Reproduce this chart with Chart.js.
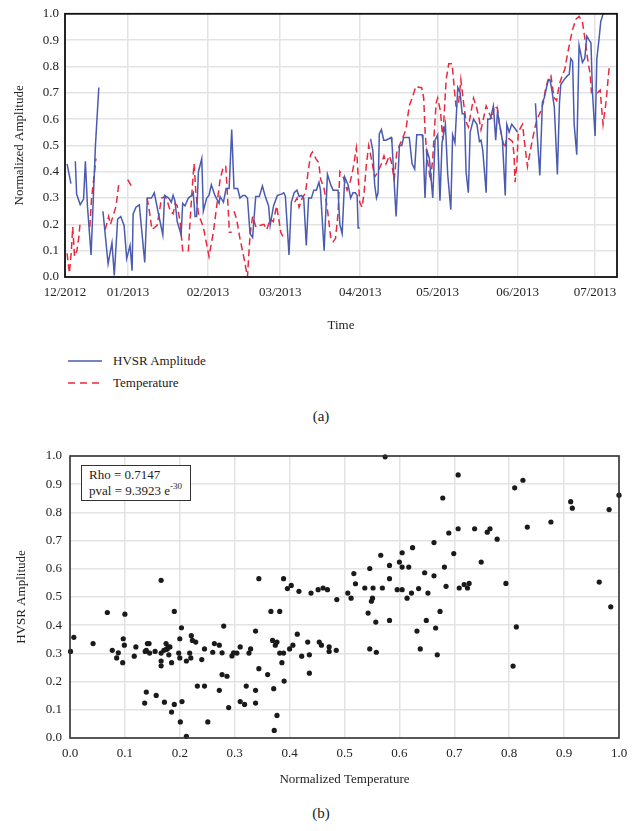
<!DOCTYPE html>
<html>
<head>
<meta charset="utf-8">
<script src="https://cdn.jsdelivr.net/npm/chart.js@4.4.1/dist/chart.umd.min.js"></script>
<style>
  html, body { margin:0; padding:0; background:#fff; }
  body { width:642px; height:831px; position:relative; overflow:hidden; font-family:"Liberation Serif","DejaVu Serif",serif; color:#222; }
  canvas { position:absolute; left:0; }
  #c1 { top:0; }
  #c2 { top:440px; }
  .txt { position:absolute; font-size:13px; line-height:16px; white-space:nowrap; }
  .cap { position:absolute; font-size:15px; width:642px; text-align:center; left:0; }
  #stat { position:absolute; left:81px; top:465px; width:101px; height:33px; border:1.5px solid #333; background:#fff;
          font-size:13px; line-height:15.5px; padding:1px 0 0 7px; box-sizing:content-box; z-index:5; }
  #stat sup { font-size:9px; vertical-align:6px; line-height:0; }
</style>
</head>
<body>
<canvas id="c1" width="642" height="340"></canvas>
<canvas id="c2" width="642" height="360"></canvas>

<svg style="position:absolute;left:66px;top:353px" width="40" height="36">
  <line x1="2" y1="8" x2="36" y2="8" stroke="#4a5bb0" stroke-width="1.5"/>
  <line x1="2" y1="30" x2="36" y2="30" stroke="#e8283f" stroke-width="1.5" stroke-dasharray="7,5"/>
</svg>
<div class="txt" style="left:113px;top:353px">HVSR Amplitude</div>
<div class="txt" style="left:113px;top:375px">Temperature</div>
<div class="cap" style="top:408px">(a)</div>
<div class="cap" style="top:805px">(b)</div>
<div id="stat">Rho = 0.7147<br>pval = 9.3923 e<sup>-30</sup></div>

<script>
// ---------- Data (a): time series, x = days since 1 Dec 2012 ----------
const monthTickDays = [6.6, 31, 62, 90, 121, 151, 182, 212];
const monthTickLabels = ['12/2012','01/2013','02/2013','03/2013','04/2013','05/2013','06/2013','07/2013'];

const hvsrSeries = [
 [7.4,.43],[8.9,.355],[9.7,null],[10.6,.44],[11.1,.315],[12.5,.275],[13.8,.296],[14.5,.44],[15.3,.27],[16.7,.084],[18.4,.50],[19.7,.72],
 [20.5,null],[21.3,.25],[23.3,.05],[24.8,.13],[25.7,.006],[27.0,.22],[28.2,.23],[29.5,.196],[30.5,.07],[31.8,.12],[32.6,.024],[33.0,.24],
 [34.1,.265],[35.4,.274],[37.5,.055],[38.5,.30],[40.1,.30],[41.2,.32],[42.7,.246],[44.5,.16],[45.2,.31],[46.8,.30],[47.8,.284],[48.5,.31],
 [49.2,.29],[50.1,.21],[51.6,.16],[52.2,.28],[53.1,.27],[54.4,.30],[55.7,.31],[56.3,.32],[57.0,.23],[57.6,.23],[58.3,.40],[59.6,.45],
 [60.2,.25],[61.5,.30],[62.4,.31],[63.3,.35],[64.7,.31],[66.3,.28],[66.7,.306],[68.0,.284],[69.0,.336],[70.2,.336],[71.2,.56],[72.1,.336],
 [73.5,.336],[74.4,.30],[75.5,.31],[76.4,.31],[77.3,.30],[78.3,.165],[79.3,.15],[80.5,.306],[81.9,.306],[83.1,.346],[84.1,.31],[85.5,.27],
 [86.1,.196],[87.4,.27],[88.9,.31],[90.5,.315],[91.4,.32],[92.0,.306],[93.4,.084],[94.3,.284],[95.4,.32],[96.5,.33],[97.3,.306],[98.2,.31],
 [99.1,.30],[100.1,.12],[101.0,.30],[102.1,.30],[103.0,.33],[104.0,.33],[105.0,.36],[105.6,.33],[107.0,.10],[108.3,.39],[109.6,.35],
 [110.5,.33],[111.4,.33],[112.4,.33],[113.1,.20],[114.0,.165],[115.0,.38],[116.3,.35],[117.3,.30],[118.2,.32],[119.1,.32],[119.8,.31],
 [120.2,.186],[120.8,.186],[123.0,null],[125.0,.525],[125.9,.48],[126.6,.35],[127.3,.30],[127.9,.32],[128.4,.544],[129.2,.56],[130.1,.52],
 [131.0,.52],[133.0,.53],[133.3,.51],[134.9,.23],[136.2,.50],[137.1,.50],[137.8,.53],[140.0,.53],[141.1,.43],[142.1,.41],[142.9,.54],
 [143.9,.54],[145.0,.54],[145.3,.52],[146.1,.30],[146.9,.48],[147.8,.45],[149.1,.30],[150.0,.52],[151.0,.54],[151.9,.29],[152.7,.51],
 [154.0,.58],[154.9,.39],[156.1,.256],[156.8,.54],[157.7,.51],[158.8,.72],[159.7,.70],[160.5,.62],[161.4,.62],[162.0,.40],[162.9,.32],
 [163.6,.55],[164.9,.60],[166.2,.58],[167.2,.515],[167.8,.52],[168.5,.48],[169.8,.32],[170.4,.60],[171.4,.60],[172.6,.65],[173.5,.52],
 [174.2,.63],[174.8,.59],[176.1,.52],[177.2,.31],[177.8,.58],[178.7,.55],[179.7,.58],[180.9,.565],[182.0,.55],[185.0,null],[188.9,.66],
 [189.7,.52],[190.6,.386],[191.6,.665],[192.3,.68],[193.2,.72],[193.8,.746],[194.5,.75],[195.1,.72],[196.2,.646],[197.4,.39],[198.2,.66],
 [198.7,.73],[200.0,.75],[201.3,.765],[202.0,.77],[202.6,.83],[203.3,.82],[203.9,.58],[204.9,.465],[205.8,.88],[206.5,.846],[207.1,.815],
 [208.0,.83],[208.8,.915],[209.7,.90],[210.4,.89],[211.0,.70],[212.0,.536],[212.7,.83],[213.6,.91],[214.2,.97],[215.1,1.0],[215.6,1.0]
];

const temperatureSeries = [
 [7.4,.09],[8.3,.015],[9.0,.09],[9.6,.19],[10.3,.078],[11.2,.10],[11.9,.146],[12.5,.21],[14.5,null],[16.2,.19],[16.9,.30],[17.7,.37],
 [18.6,.45],[20.0,null],[22.2,.18],[23.5,.23],[24.2,.20],[25.5,.24],[26.4,.27],[27.4,.35],[29.0,null],[30.9,.37],[32.6,.34],[35.0,null],
 [38.4,.30],[39.3,.25],[40.3,.18],[42.3,.196],[43.2,.25],[44.0,.30],[45.5,.306],[46.5,.28],[47.4,.25],[48.5,.24],[49.3,.28],[50.1,.27],
 [51.2,.21],[52.2,.10],[53.5,.10],[54.4,.10],[55.1,.22],[56.0,.35],[56.6,.43],[57.0,.37],[57.3,.32],[58.3,.24],[60.2,.19],[62.4,.078],
 [64.1,.17],[65.4,.27],[66.7,.37],[68.0,.42],[68.9,.42],[69.5,.32],[70.3,.17],[71.2,.17],[71.6,null],[72.1,.25],[73.1,.22],[74.4,.146],
 [76.0,.07],[77.3,.0],[78.3,.16],[79.3,.23],[80.6,.19],[82.1,.196],[83.7,.20],[84.8,.18],[86.1,.22],[87.3,.21],[88.6,.27],[89.6,.21],
 [90.2,.17],[91.5,.146],[93.5,null],[95.6,.284],[96.5,.30],[97.3,.265],[98.5,.30],[99.8,.32],[100.8,.40],[101.8,.465],[102.5,.475],
 [103.8,.45],[104.9,.434],[105.7,.37],[106.9,.34],[107.9,.284],[108.5,.24],[109.6,.146],[110.5,.134],[111.4,.146],[112.4,.24],[113.1,.40],
 [114.4,.38],[115.9,.33],[117.2,.365],[118.2,.41],[119.5,.49],[119.8,.45],[120.8,.284],[121.7,.265],[122.5,.32],[123.4,.43],[124.3,.50],
 [125.3,.45],[126.6,.38],[127.9,.40],[129.2,.43],[130.2,.46],[131.0,.43],[132.3,.46],[133.0,.44],[134.2,.37],[135.1,.47],[136.2,.50],
 [137.5,.53],[138.7,.56],[140.0,.65],[141.1,.68],[142.6,.725],[143.9,.72],[144.8,.72],[145.6,.68],[146.1,.56],[146.8,.46],[147.4,.42],
 [148.2,.365],[149.1,.45],[149.7,.55],[150.4,.66],[151.0,.68],[152.1,.63],[153.0,.52],[153.6,.63],[154.3,.75],[155.3,.81],[156.6,.81],
 [157.5,.71],[158.1,.65],[159.0,.65],[160.0,.75],[161.0,.665],[162.0,.59],[162.9,.57],[164.0,.63],[164.9,.68],[165.9,.65],[166.9,.61],
 [167.8,.56],[168.7,.60],[169.8,.65],[171.1,.62],[172.1,.60],[173.0,.65],[174.2,.64],[174.8,.59],[176.1,.52],[177.0,.49],[177.8,.53],
 [178.7,.525],[180.0,.515],[180.6,.465],[181.0,.36],[181.7,.43],[182.2,.54],[183.0,.565],[183.9,.58],[184.8,.50],[185.8,.42],[187.1,.49],
 [188.1,.54],[189.0,.58],[190.0,.61],[191.0,.63],[192.0,.665],[192.9,.72],[194.2,.76],[194.9,.765],[195.5,.72],[196.2,.68],[197.1,.67],
 [198.1,.73],[199.1,.76],[200.3,.79],[201.3,.846],[202.4,.90],[203.3,.94],[204.6,.98],[205.8,.99],[207.1,.97],[208.0,.91],[209.1,.83],
 [210.1,.77],[210.6,.70],[211.7,.70],[212.9,.70],[214.0,.71],[214.5,.646],[215.1,.58],[216.2,.66],[217.5,.80]
];

// ---------- Data (b): scatter, normalized temperature vs HVSR amplitude ----------
const scatterTemp = [
 0.001,0.007,0.042,0.068,0.077,0.085,0.088,0.096,0.097,0.099,0.100,0.117,0.120,0.137,0.139,0.141,0.144,0.145,0.155,0.136,
 0.139,0.157,0.166,0.166,0.166,0.166,0.171,0.172,0.175,0.175,0.177,0.179,0.180,0.182,0.185,0.185,0.190,0.190,0.198,0.200,
 0.200,0.201,0.203,0.204,0.212,0.212,0.218,0.220,0.221,0.223,0.229,0.232,0.240,0.245,0.245,0.251,0.260,0.263,0.272,0.272,
 0.277,0.277,0.280,0.286,0.289,0.295,0.298,0.304,0.310,0.310,0.318,0.321,0.326,0.329,0.338,0.338,0.338,0.344,0.344,
 0.360,0.366,0.369,0.371,0.372,0.374,0.377,0.377,0.382,0.382,0.386,0.389,0.389,0.390,0.396,0.400,0.403,0.406,0.414,0.417,
 0.422,0.433,0.436,0.436,0.439,0.452,0.454,0.458,0.461,0.469,0.472,0.472,0.485,0.486,0.506,0.512,0.517,0.520,0.537,0.543,
 0.546,0.546,0.549,0.551,0.552,0.557,0.558,0.566,0.569,0.574,0.582,0.582,0.582,0.596,0.600,0.605,0.605,0.605,0.614,0.617,
 0.622,0.624,0.632,0.635,0.638,0.646,0.649,0.652,0.663,0.663,0.666,0.669,0.674,
 0.679,0.682,0.685,0.690,0.699,0.707,0.707,0.709,0.718,0.724,0.727,0.737,0.749,0.760,0.765,0.778,0.794,0.807,0.810,0.813,
 0.825,0.833,0.876,0.912,0.915,0.964,0.982,0.985,1.0
];
const scatterHvsr = [
 0.307,0.357,0.335,0.445,0.311,0.284,0.302,0.267,0.352,0.329,0.439,0.290,0.323,0.307,0.311,0.335,0.335,0.301,0.307,0.124,
 0.163,0.151,0.559,0.301,0.273,0.256,0.311,0.127,0.335,0.314,0.316,0.323,0.295,0.323,0.267,0.092,0.119,0.449,0.301,0.352,
 0.284,0.057,0.391,0.129,0.006,0.273,0.301,0.284,0.363,0.346,0.340,0.184,0.278,0.316,0.184,0.057,0.304,0.335,0.329,0.169,
 0.302,0.225,0.397,0.219,0.108,0.291,0.302,0.301,0.323,0.129,0.119,0.184,0.301,0.316,0.379,0.169,0.124,0.246,0.565,
 0.225,0.449,0.346,0.175,0.027,0.329,0.340,0.080,0.449,0.301,0.267,0.565,0.301,0.202,0.530,0.316,0.541,0.329,0.368,0.520,
 0.290,0.340,0.295,0.230,0.514,0.526,0.340,0.329,0.532,0.526,0.323,0.307,0.311,0.491,0.514,0.496,0.583,0.547,0.532,0.443,
 0.601,0.316,0.485,0.496,0.532,0.411,0.304,0.648,0.532,0.997,0.612,0.565,0.417,0.526,0.624,0.657,0.606,0.526,0.496,0.606,
 0.514,0.675,0.379,0.530,0.316,0.586,0.417,0.514,0.693,0.575,0.390,0.295,0.449,
 0.851,0.606,0.538,0.727,0.654,0.933,0.742,0.532,0.544,0.532,0.548,0.742,0.624,0.730,0.742,0.705,0.548,0.255,0.887,0.394,
 0.914,0.748,0.766,0.838,0.815,0.553,0.810,0.465,0.861
];

// ---------- Common styling ----------
const FONT = { family: '"Liberation Serif","DejaVu Serif",serif', size: 13 };
const GRID = '#e3e3e3';
const INK = '#222';
Chart.defaults.font.family = FONT.family;
Chart.defaults.color = INK;

const framePlugin = {
  id: 'frame',
  afterDraw(chart, args, opts) {
    const a = chart.chartArea, ctx = chart.ctx;
    ctx.save();
    ctx.strokeStyle = opts.color || '#000';
    ctx.lineWidth = opts.width || 1.5;
    ctx.strokeRect(a.left, a.top, a.right - a.left, a.bottom - a.top);
    ctx.restore();
  }
};

const toXY = s => s.map(p => ({ x: p[0], y: p[1] }));

// ---------- Chart (a) ----------
new Chart(document.getElementById('c1'), {
  type: 'line',
  data: {
    datasets: [
      { label: 'HVSR Amplitude', data: toXY(hvsrSeries), borderColor: '#4a5bb0', borderWidth: 1.5,
        pointRadius: 0, tension: 0, spanGaps: false, fill: false },
      { label: 'Temperature', data: toXY(temperatureSeries), borderColor: '#e8283f', borderWidth: 1.5,
        borderDash: [7, 4], pointRadius: 0, tension: 0, spanGaps: false, fill: false }
    ]
  },
  options: {
    responsive: false, animation: false, devicePixelRatio: 1,
    layout: { padding: { top: 11, right: 25, left: 0, bottom: 0 } },
    plugins: { legend: { display: false }, tooltip: { enabled: false }, frame: { color: '#111', width: 1.8 } },
    scales: {
      x: {
        type: 'linear', min: 6.6, max: 220.5,
        afterBuildTicks: s => { s.ticks = monthTickDays.map(v => ({ value: v })); },
        afterFit: s => { s.height = 63; },
        ticks: { autoSkip: false, maxRotation: 0, padding: 8, font: FONT, color: INK,
                 callback: (v, i) => monthTickLabels[i] },
        grid: { color: GRID, lineWidth: 1.5, drawTicks: false },
        border: { display: false },
        title: { display: true, text: 'Time', font: FONT, color: INK, padding: { top: 0, bottom: 7 } }
      },
      y: {
        min: 0, max: 1,
        afterFit: s => { s.width = 65; },
        ticks: { stepSize: 0.1, padding: 6, font: FONT, color: INK, callback: v => Number(v).toFixed(1) },
        grid: { color: GRID, lineWidth: 1.5, drawTicks: false },
        border: { display: false },
        title: { display: true, text: 'Normalized Amplitude', font: FONT, color: INK, padding: { top: 12, bottom: 0 } }
      }
    }
  },
  plugins: [framePlugin]
});

// ---------- Chart (b) ----------
const nPts = Math.min(scatterTemp.length, scatterHvsr.length);
const scatterData = [];
for (let i = 0; i < nPts; i++) scatterData.push({ x: scatterTemp[i], y: scatterHvsr[i] });

new Chart(document.getElementById('c2'), {
  type: 'scatter',
  data: {
    datasets: [{ label: 'HVSR vs Temperature', data: scatterData, backgroundColor: '#1a1a1a', borderWidth: 0,
                 pointRadius: 2.6, clip: false }]
  },
  options: {
    responsive: false, animation: false, devicePixelRatio: 1,
    layout: { padding: { top: 16, right: 23, left: 0, bottom: 0 } },
    plugins: { legend: { display: false }, tooltip: { enabled: false }, frame: { color: '#333', width: 1.6 } },
    scales: {
      x: {
        type: 'linear', min: 0, max: 1,
        afterFit: s => { s.height = 62; },
        ticks: { stepSize: 0.1, padding: 7.5, maxRotation: 0, font: FONT, color: INK, callback: v => Number(v).toFixed(1) },
        grid: { color: GRID, lineWidth: 1.5, drawTicks: false },
        border: { display: false },
        title: { display: true, text: 'Normalized Temperature', font: FONT, color: INK, padding: { top: 0, bottom: 13 } }
      },
      y: {
        min: 0, max: 1,
        afterFit: s => { s.width = 70; },
        ticks: { stepSize: 0.1, padding: 8, font: FONT, color: INK, callback: v => Number(v).toFixed(1) },
        grid: { color: GRID, lineWidth: 1.5, drawTicks: false },
        border: { display: false },
        title: { display: true, text: 'HVSR Amplitude', font: FONT, color: INK, padding: { top: 14, bottom: 0 } }
      }
    }
  },
  plugins: [framePlugin]
});
</script>
</body>
</html>
